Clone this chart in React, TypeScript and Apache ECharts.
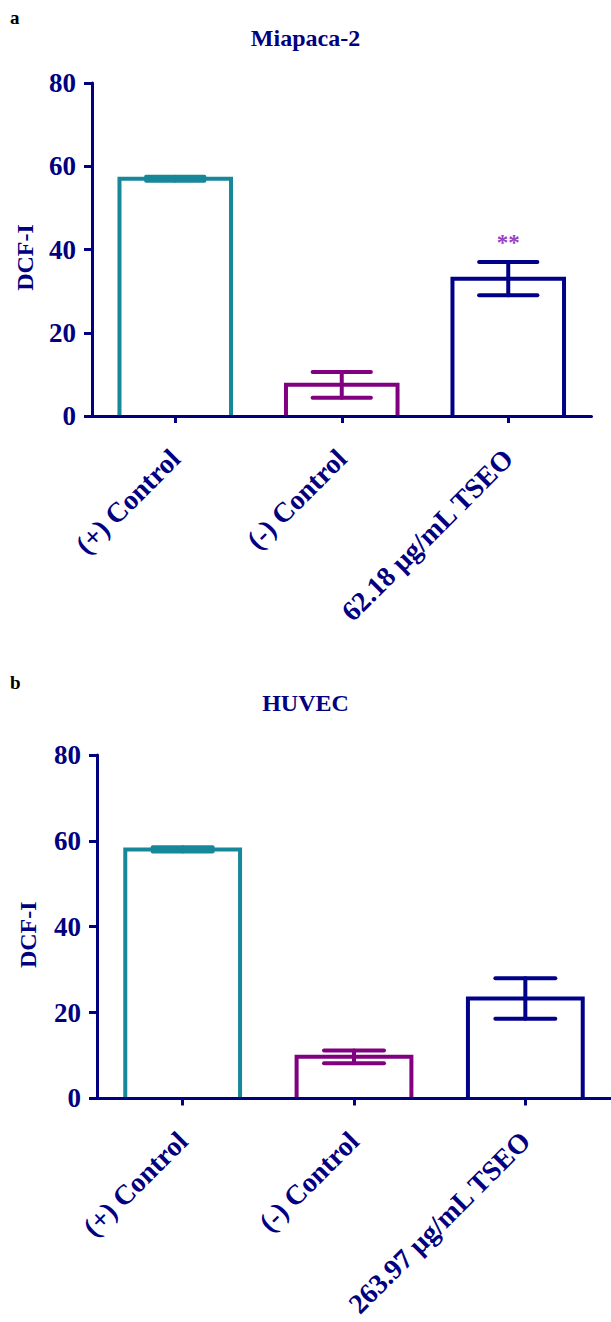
import React, { useEffect, useRef } from "react";
import * as echarts from "echarts";

// ---- data ----
const categoriesA = ["(+) Control", "(-) Control", "62.18 μg/mL TSEO"];
const meansA = [57, 7.5, 33];
const errorsA = [0.5, 3.1, 4];
const signifA = ["", "", "**"];

const categoriesB = ["(+) Control", "(-) Control", "263.97 μg/mL TSEO"];
const meansB = [58, 9.7, 23.3];
const errorsB = [0.5, 1.5, 4.7];
const signifB = ["", "", ""];

const titles = ["Miapaca-2", "HUVEC"];
const panelLetters = ["a", "b"];
const yAxisName = "DCF-I";
const yMin = 0;
const yMax = 80;
const yInterval = 20;

// ---- style ----
const NAVY = "#000080";
const barColors = ["#17879a", "#800080", "#000088"];
const starColor = "#9a40c8";
const FONT = "'Liberation Serif', 'Times New Roman', Times, serif";

function makeBarSeries(idx: number, means: number[]) {
  return {
    type: "custom",
    xAxisIndex: idx,
    yAxisIndex: idx,
    z: 5,
    data: means.map((m, i) => [i, m]),
    renderItem: (params: any, api: any) => {
      const i = api.value(0);
      const v = api.value(1);
      const base = api.coord([i, 0]);
      const top = api.coord([i, v]);
      const band = api.size([1, 0])[0];
      const w = band * 0.67;
      return {
        type: "polyline",
        shape: {
          points: [
            [base[0] - w / 2, base[1]],
            [base[0] - w / 2, top[1]],
            [base[0] + w / 2, top[1]],
            [base[0] + w / 2, base[1]],
          ],
        },
        style: { stroke: barColors[i], lineWidth: 4, fill: null, lineJoin: "miter" },
      };
    },
  };
}

function makeErrSeries(idx: number, means: number[], errs: number[], sig: string[]) {
  return {
    type: "custom",
    xAxisIndex: idx,
    yAxisIndex: idx,
    z: 6,
    data: means.map((m, i) => [i, m, errs[i]]),
    renderItem: (params: any, api: any) => {
      const i = api.value(0);
      const m = api.value(1);
      const e = api.value(2);
      const hi = api.coord([i, m + e]);
      const lo = api.coord([i, m - e]);
      const band = api.size([1, 0])[0];
      const cw = band * 0.35;
      const st = { stroke: barColors[i], lineWidth: 4, lineCap: "round" };
      const children: any[] = [
        { type: "line", shape: { x1: hi[0], y1: hi[1], x2: lo[0], y2: lo[1] }, style: st },
        { type: "line", shape: { x1: hi[0] - cw / 2, y1: hi[1], x2: hi[0] + cw / 2, y2: hi[1] }, style: st },
        { type: "line", shape: { x1: lo[0] - cw / 2, y1: lo[1], x2: lo[0] + cw / 2, y2: lo[1] }, style: st },
      ];
      if (sig[i]) {
        children.push({
          type: "text",
          x: hi[0],
          y: hi[1] - 19,
          style: {
            text: sig[i],
            fill: starColor,
            font: `bold 23px ${FONT}`,
            align: "center",
            verticalAlign: "middle",
          },
        });
      }
      return { type: "group", children };
    },
  };
}

function axisPair(idx: number, cats: string[], nameGap: number) {
  const x = {
    type: "category",
    gridIndex: idx,
    data: cats,
    boundaryGap: true,
    z: 10,
    axisLine: { show: true, lineStyle: { color: NAVY, width: 3 } },
    axisTick: { show: true, alignWithLabel: true, length: 7, lineStyle: { color: NAVY, width: 3 } },
    axisLabel: {
      interval: 0,
      rotate: 45,
      margin: 38,
      color: NAVY,
      fontFamily: FONT,
      fontWeight: "bold",
      fontSize: 28,
    },
    splitLine: { show: false },
  };
  const y = {
    type: "value",
    gridIndex: idx,
    min: yMin,
    max: yMax,
    interval: yInterval,
    name: yAxisName,
    nameLocation: "middle",
    nameGap,
    nameTextStyle: {
      color: NAVY,
      fontFamily: FONT,
      fontWeight: "bold",
      fontSize: 24,
      padding: [0, 16, 0, 0],
    },
    axisLine: { show: true, lineStyle: { color: NAVY, width: 3 } },
    axisTick: { show: true, length: 8, lineStyle: { color: NAVY, width: 3 } },
    axisLabel: { margin: 16, color: NAVY, fontFamily: FONT, fontWeight: "bold", fontSize: 27 },
    splitLine: { show: false },
  };
  return { x, y };
}

export default function App() {
  const ref = useRef<HTMLDivElement>(null);
  useEffect(() => {
    if (!ref.current) return;
    const chart = echarts.init(ref.current, null, { renderer: "svg" });
    const a = axisPair(0, categoriesA, 55);
    const b = axisPair(1, categoriesB, 57);
    chart.setOption({
      animation: false,
      backgroundColor: "#ffffff",
      title: [
        {
          text: titles[0],
          left: "center",
          top: 26,
          padding: 0,
          textStyle: { color: NAVY, fontFamily: FONT, fontWeight: "bold", fontSize: 24 },
        },
        {
          text: titles[1],
          left: "center",
          top: 691,
          padding: 0,
          textStyle: { color: NAVY, fontFamily: FONT, fontWeight: "bold", fontSize: 24 },
        },
      ],
      graphic: [
        { type: "text", left: 10, top: 8, style: { text: panelLetters[0], fill: "#000", font: `bold 19px ${FONT}` } },
        { type: "text", left: 10, top: 673, style: { text: panelLetters[1], fill: "#000", font: `bold 19px ${FONT}` } },
      ],
      grid: [
        { left: 92, top: 83, width: 499.5, height: 333 },
        { left: 97, top: 755, width: 523.5, height: 348 },
      ],
      xAxis: [a.x, b.x],
      yAxis: [a.y, b.y],
      series: [
        makeBarSeries(0, meansA),
        makeErrSeries(0, meansA, errorsA, signifA),
        makeBarSeries(1, meansB),
        makeErrSeries(1, meansB, errorsB, signifB),
      ],
    });
    return () => chart.dispose();
  }, []);
  return (
    <div
      ref={ref}
      style={{ position: "absolute", left: 0, top: 0, width: 611, height: 1322, background: "#fff" }}
    />
  );
}
